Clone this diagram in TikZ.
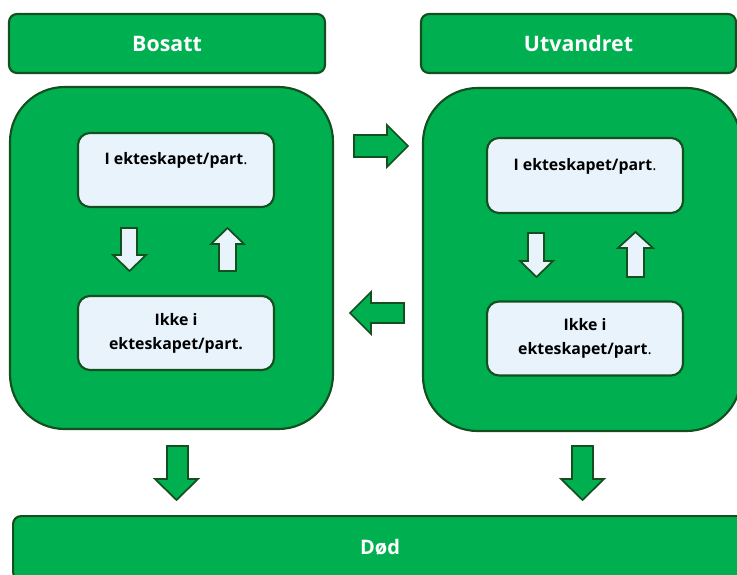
\documentclass[tikz,border=0pt]{standalone}
\usepackage{fontspec}
\setmainfont{Open Sans}
\definecolor{fgreen}{HTML}{00B050}
\definecolor{dgreen}{HTML}{134F1F}
\definecolor{lblue}{HTML}{E9F3FB}
\begin{document}
\begin{tikzpicture}[x=0.75pt,y=-0.75pt,
  header/.style={draw=dgreen,line width=1.6pt,fill=fgreen,rounded corners=6pt,inner sep=0pt,
    font=\fontsize{16}{18}\selectfont\bfseries,text=white},
  bigbox/.style={draw=dgreen,line width=1.6pt,fill=fgreen,rounded corners=41pt,inner sep=0pt},
  innerbox/.style={draw=dgreen,line width=1.6pt,fill=lblue,rounded corners=9pt,inner sep=0pt,
    minimum width=147pt},
  itext/.style={font=\fontsize{11.9}{17.5}\selectfont\bfseries,align=center,inner sep=0pt},
  garrow/.style={draw=dgreen,line width=1.3pt,fill=fgreen,line join=miter},
  barrow/.style={draw=dgreen,line width=1.3pt,fill=lblue,line join=miter}]
\useasboundingbox (0,0) rectangle (737,574);
\begin{scope}
\clip (0,0) rectangle (737,574);
% headers
\node[header,minimum width=237pt,minimum height=44.25pt] (bosatt) at (167,43.5) {Bosatt};
\node[header,minimum width=236.25pt,minimum height=44.25pt] (utv) at (578.5,43.5) {Utvandret};
% big boxes
\node[bigbox,minimum width=242.25pt,minimum height=256.5pt] (lbig) at (171.5,258) {};
\node[bigbox,minimum width=238.5pt,minimum height=257.25pt] (rbig) at (582,259.5) {};
% inner boxes
\node[innerbox,minimum height=55.5pt] (ltop) at (176,170) {};
\node[itext] (ltopt) at (176,160) {I ekteskapet/part\textmd{.}};
\node[innerbox,minimum height=55.5pt] (lbot) at (176,333) {};
\node[itext] (lbott) at (176,333.5) {Ikke i\\ekteskapet/part.};
\node[innerbox,minimum height=56.25pt] (rtop) at (585,175.5) {};
\node[itext] (rtopt) at (585,166) {I ekteskapet/part\textmd{.}};
\node[innerbox,minimum height=55.5pt] (rbot) at (585,338.5) {};
\node[itext] (rbott) at (585,338.5) {Ikke i\\ekteskapet/part\textmd{.}};
% Død
\node[header,minimum width=549.75pt,minimum height=48pt,anchor=north west] (dod) at (12,515) {};
\node[font=\fontsize{15}{18}\selectfont\bfseries,text=white] (dodt) at (380,547) {Død};
\end{scope}
% arrows between columns
\draw[garrow] (354,135) -- (387,135) -- (387,125) -- (408,146) -- (387,167) -- (387,157) -- (354,157) -- cycle;
\draw[garrow] (404,303) -- (371,303) -- (371,292) -- (350,313) -- (371,334) -- (371,323) -- (404,323) -- cycle;
% inner arrows left
\draw[barrow] (121,228) -- (137,228) -- (137,255) -- (146,255) -- (129.5,271) -- (113,255) -- (121,255) -- cycle;
\draw[barrow] (219,271) -- (236,271) -- (236,244) -- (244,244) -- (227.5,228) -- (211,244) -- (219,244) -- cycle;
% inner arrows right
\draw[barrow] (528,233) -- (544,233) -- (544,261) -- (553,261) -- (536.5,277) -- (520,261) -- (528,261) -- cycle;
\draw[barrow] (627,277) -- (644,277) -- (644,248) -- (653,248) -- (635.5,232) -- (618,248) -- (627,248) -- cycle;
% down arrows to Død
\draw[garrow] (167,446) -- (188,446) -- (188,479) -- (198,479) -- (176.5,500) -- (155,479) -- (167,479) -- cycle;
\draw[garrow] (572,446) -- (593,446) -- (593,479) -- (604,479) -- (582.5,500) -- (561,479) -- (572,479) -- cycle;
\end{tikzpicture}
\end{document}
